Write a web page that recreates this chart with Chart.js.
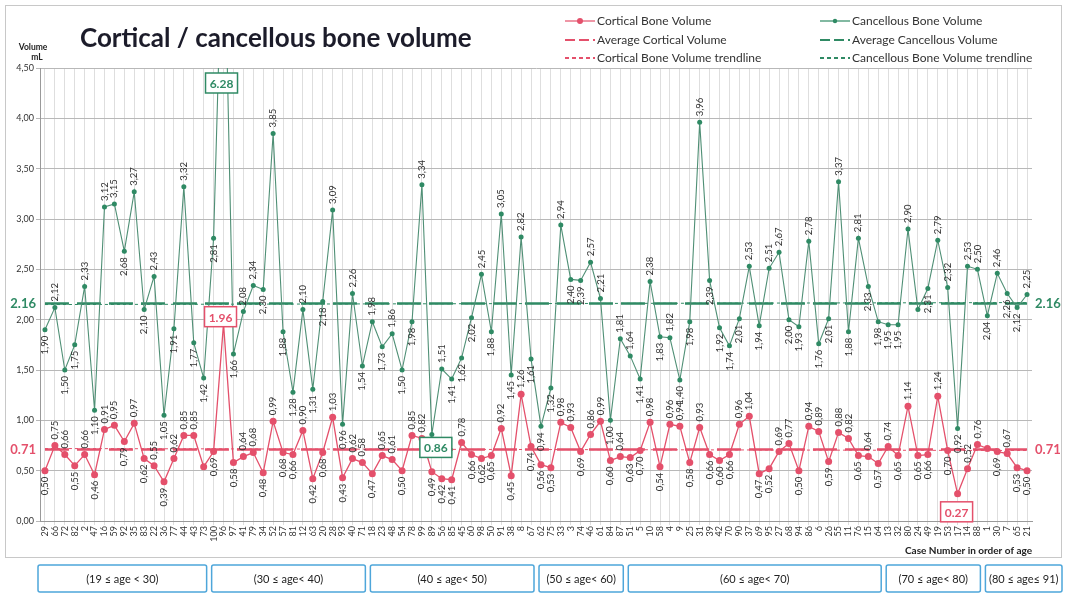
<!DOCTYPE html>
<html>
<head>
<meta charset="utf-8">
<script src="https://cdn.jsdelivr.net/npm/chart.js@4"></script>
<style>
  html, body { margin: 0; padding: 0; background: #fff; }
  #wrap { width: 1066px; height: 595px; position: relative; }
</style>
</head>
<body>
<div id="wrap"><canvas id="myChart" width="1066" height="595"></canvas></div>
<script>
'use strict';

// case numbers, in order of age
let caseNumbers = ['29', '66', '72', '82', '2', '47', '16', '59', '92', '35',
  '83', '22', '36', '77', '44', '43', '73', '100', '96', '97',
  '41', '79', '34', '52', '57', '81', '12', '63', '20', '28',
  '93', '40', '71', '18', '23', '48', '54', '78', '99', '89',
  '56', '85', '45', '60', '98', '50', '91', '38', '8', '67',
  '62', '75', '33', '3', '74', '46', '61', '84', '87', '51',
  '5', '10', '58', '4', '9', '25', '31', '39', '42', '70',
  '90', '37', '69', '95', '27', '68', '94', '86', '6', '26',
  '55', '11', '76', '15', '64', '13', '32', '80', '24', '49',
  '19', '53', '17', '14', '88', '1', '30', '7', '65', '21'];

let corticalVolume = [0.50, 0.75, 0.66, 0.55, 0.66, 0.46, 0.91, 0.95, 0.79, 0.97,
  0.62, 0.55, 0.39, 0.62, 0.85, 0.85, 0.54, 0.69, 1.96, 0.58,
  0.64, 0.68, 0.48, 0.99, 0.68, 0.66, 0.90, 0.42, 0.68, 1.03,
  0.43, 0.62, 0.58, 0.47, 0.65, 0.61, 0.50, 0.85, 0.82, 0.49,
  0.42, 0.41, 0.78, 0.66, 0.62, 0.65, 0.92, 0.45, 1.26, 0.74,
  0.56, 0.53, 0.98, 0.93, 0.69, 0.86, 0.99, 0.60, 0.64, 0.63,
  0.70, 0.98, 0.54, 0.96, 0.94, 0.58, 0.93, 0.66, 0.60, 0.66,
  0.96, 1.04, 0.47, 0.52, 0.69, 0.77, 0.50, 0.94, 0.89, 0.59,
  0.88, 0.82, 0.65, 0.64, 0.57, 0.74, 0.65, 1.14, 0.65, 0.66,
  1.24, 0.70, 0.27, 0.52, 0.76, 0.72, 0.69, 0.67, 0.53, 0.50];

let cancellousVolume = [1.90, 2.12, 1.50, 1.75, 2.33, 1.10, 3.12, 3.15, 2.68, 3.27,
  2.10, 2.43, 1.05, 1.91, 3.32, 1.77, 1.42, 2.81, 6.28, 1.66,
  2.08, 2.34, 2.30, 3.85, 1.88, 1.28, 2.10, 1.31, 2.18, 3.09,
  0.96, 2.26, 1.54, 1.98, 1.73, 1.86, 1.50, 1.98, 3.34, 0.86,
  1.51, 1.41, 1.62, 2.02, 2.45, 1.88, 3.05, 1.45, 2.82, 1.61,
  0.94, 1.32, 2.94, 2.40, 2.39, 2.57, 2.21, 1.00, 1.81, 1.64,
  1.41, 2.38, 1.83, 1.82, 1.40, 1.98, 3.96, 2.39, 1.92, 1.74,
  2.01, 2.53, 1.94, 2.51, 2.67, 2.00, 1.93, 2.78, 1.76, 2.01,
  3.37, 1.88, 2.81, 2.33, 1.98, 1.95, 1.95, 2.90, 2.10, 2.31,
  2.79, 2.32, 0.92, 2.53, 2.50, 2.04, 2.46, 2.26, 2.12, 2.25];

let averageCortical = 0.71;
let averageCancellous = 2.16;
// trendline end points (first case, last case)
let corticalTrend = [0.72, 0.70];
let cancellousTrend = [2.15, 2.17];

let yTicks = [0, 0.5, 1, 1.5, 2, 2.5, 3, 3.5, 4, 4.5];

let ageGroups = ['(19 \u2264 age < 30)', '(30 \u2264 age< 40)', '(40 \u2264 age< 50)', '(50 \u2264 age< 60)',
  '(60 \u2264 age< 70)', '(70 \u2264 age< 80)', '(80 \u2264 age\u2264 91)'];
// first and last case under every age group box
let ageGroupCases = [['29', '73'], ['100', '71'], ['18', '67'], ['62', '87'], ['51', '64'], ['13', '88'], ['1', '21']];

let RED = '#e4506b';
let GREEN = '#2f8a64';
let FONT = 'Lato, "Open Sans", sans-serif';

// boxed values and values left without a label
let boxedLabels = [
  { ds: 1, idx: 18, dx: -2, dy: 0, top: true },
  { ds: 0, idx: 18, dx: -3, dy: -7 },
  { ds: 1, idx: 39, dx: 4, dy: 13 },
  { ds: 0, idx: 92, dx: -1, dy: 18 }
];
let noLabel = { 0: [16, 18, 92, 95], 1: [18, 39, 88] };

function fmt(v) {
  return v.toFixed(2).replace('.', ',');
}

function endPoints(vals) {
  return [{ x: caseNumbers[0], y: vals[0] }, { x: caseNumbers[caseNumbers.length - 1], y: vals[1] }];
}

let extras = {
  id: 'extras',
  afterDatasetsDraw(chart) {
    let ctx = chart.ctx;
    let area = chart.chartArea;
    let xs = chart.scales.x;
    let ys = chart.scales.y;

    // rotated data labels
    ctx.save();
    ctx.font = '9.5px ' + FONT;
    ctx.fillStyle = '#333';
    ctx.textBaseline = 'middle';
    [0, 1].forEach(function (d) {
      let vals = chart.data.datasets[d].data;
      let meta = chart.getDatasetMeta(d);
      for (let i = 0; i < vals.length; i++) {
        if (noLabel[d].includes(i)) continue;
        let p = meta.data[i];
        let prev = i > 0 ? vals[i - 1] : vals[i + 1];
        let next = i < vals.length - 1 ? vals[i + 1] : vals[i - 1];
        let above = vals[i] >= (prev + next) / 2;
        ctx.save();
        ctx.translate(p.x, p.y);
        ctx.rotate(-Math.PI / 2);
        if (above) {
          ctx.textAlign = 'left';
          ctx.fillText(fmt(vals[i]), 6, 0);
        } else {
          ctx.textAlign = 'right';
          ctx.fillText(fmt(vals[i]), -6, 0);
        }
        ctx.restore();
      }
    });
    ctx.restore();

    // boxed values
    ctx.save();
    ctx.font = 'bold 12px ' + FONT;
    ctx.textAlign = 'center';
    ctx.textBaseline = 'middle';
    boxedLabels.forEach(function (b) {
      let col = b.ds === 0 ? RED : GREEN;
      let p = chart.getDatasetMeta(b.ds).data[b.idx];
      let cx = p.x + b.dx;
      let cy = b.top ? area.top + 15 : p.y + b.dy;
      let txt = chart.data.datasets[b.ds].data[b.idx].toFixed(2);
      ctx.fillStyle = '#fff';
      ctx.fillRect(cx - 16, cy - 10, 32, 20);
      ctx.strokeStyle = col;
      ctx.lineWidth = 1.5;
      ctx.strokeRect(cx - 16, cy - 10, 32, 20);
      ctx.fillStyle = col;
      ctx.fillText(txt, cx, cy + 1);
    });
    ctx.restore();

    // average values at both ends
    ctx.save();
    ctx.font = 'bold 13px ' + FONT;
    ctx.textBaseline = 'middle';
    [[averageCortical, RED], [averageCancellous, GREEN]].forEach(function (a) {
      let y = ys.getPixelForValue(a[0]);
      ctx.fillStyle = a[1];
      ctx.textAlign = 'right';
      ctx.fillText(a[0].toFixed(2), area.left - 4, y);
      ctx.textAlign = 'left';
      ctx.fillText(a[0].toFixed(2), area.right + 3, y);
    });
    ctx.restore();

    // title, axis captions, legend
    ctx.save();
    ctx.fillStyle = '#1c1c2a';
    ctx.font = 'bold 26px ' + FONT;
    ctx.textAlign = 'left';
    ctx.textBaseline = 'alphabetic';
    ctx.fillText('Cortical / cancellous bone volume', 80, 47);
    ctx.font = 'bold 8.5px ' + FONT;
    ctx.fillStyle = '#222';
    ctx.textAlign = 'center';
    ctx.fillText('Volume', 33, 50);
    ctx.fillText('mL', 37, 60);
    ctx.textAlign = 'right';
    ctx.font = 'bold 10px ' + FONT;
    ctx.fillText('Case Number in order of age', area.right, 554);

    let legendItems = [
      ['Cortical Bone Volume', RED, [], 'dot', 565, 21],
      ['Average Cortical Volume', RED, [10, 4], 'none', 565, 40],
      ['Cortical Bone Volume trendline', RED, [4, 3], 'none', 565, 58],
      ['Cancellous Bone Volume', GREEN, [], 'dot', 820, 21],
      ['Average Cancellous Volume', GREEN, [10, 4], 'none', 820, 40],
      ['Cancellous Bone Volume trendline', GREEN, [4, 3], 'none', 820, 58]
    ];
    ctx.font = '12px ' + FONT;
    ctx.textAlign = 'left';
    ctx.textBaseline = 'middle';
    legendItems.forEach(function (it) {
      ctx.strokeStyle = it[1];
      ctx.lineWidth = it[3] === 'dot' ? 1.2 : 2;
      ctx.setLineDash(it[2]);
      ctx.beginPath();
      ctx.moveTo(it[4], it[5]);
      ctx.lineTo(it[4] + 30, it[5]);
      ctx.stroke();
      ctx.setLineDash([]);
      if (it[3] === 'dot') {
        ctx.fillStyle = it[1];
        ctx.beginPath();
        ctx.arc(it[4] + 15, it[5], it[1] === RED ? 3 : 2.2, 0, Math.PI * 2);
        ctx.fill();
      }
      ctx.fillStyle = '#333';
      ctx.fillText(it[0], it[4] + 32, it[5]);
    });

    // frame
    ctx.strokeStyle = '#c8c8c8';
    ctx.lineWidth = 1;
    ctx.strokeRect(5.5, 5.5, 1056, 552);

    // age group boxes
    ctx.font = '11px ' + FONT;
    ctx.textAlign = 'center';
    let half = (xs.getPixelForValue(1) - xs.getPixelForValue(0)) / 2;
    ageGroups.forEach(function (g, i) {
      let x0 = xs.getPixelForValue(caseNumbers.indexOf(ageGroupCases[i][0])) - half + 3;
      let x1 = xs.getPixelForValue(caseNumbers.indexOf(ageGroupCases[i][1])) + half - 2;
      if (i === 0) x0 = 38;
      if (i === ageGroups.length - 1) x1 = 1062;
      ctx.fillStyle = '#fff';
      ctx.strokeStyle = '#4ea6da';
      ctx.lineWidth = 1.5;
      ctx.beginPath();
      ctx.roundRect(x0, 565, x1 - x0, 27, 2);
      ctx.fill();
      ctx.stroke();
      ctx.fillStyle = '#222';
      ctx.fillText(g, (x0 + x1) / 2, 579);
    });
    ctx.restore();
  }
};

let ctx = document.getElementById('myChart').getContext('2d');
let chart = new Chart(ctx, {
  type: 'line',
  data: {
    labels: caseNumbers,
    datasets: [{
      label: 'Cortical Bone Volume',
      data: corticalVolume,
      borderColor: RED,
      backgroundColor: RED,
      borderWidth: 1.3,
      pointRadius: 3.5,
      pointBorderWidth: 0,
      order: 2
    }, {
      label: 'Cancellous Bone Volume',
      data: cancellousVolume,
      borderColor: '#4f8f75',
      backgroundColor: GREEN,
      borderWidth: 1.1,
      pointRadius: 2.5,
      pointBorderWidth: 0,
      order: 1
    }, {
      label: 'Average Cortical Volume',
      data: endPoints([averageCortical, averageCortical]),
      borderColor: RED,
      borderWidth: 2.5,
      borderDash: [24, 8],
      pointRadius: 0,
      order: 4
    }, {
      label: 'Average Cancellous Volume',
      data: endPoints([averageCancellous, averageCancellous]),
      borderColor: GREEN,
      borderWidth: 2.5,
      borderDash: [24, 8],
      pointRadius: 0,
      order: 4
    }, {
      label: 'Cortical Bone Volume trendline',
      data: endPoints(corticalTrend),
      borderColor: RED,
      borderWidth: 1,
      borderDash: [3, 3],
      pointRadius: 0,
      order: 3
    }, {
      label: 'Cancellous Bone Volume trendline',
      data: endPoints(cancellousTrend),
      borderColor: GREEN,
      borderWidth: 1,
      borderDash: [3, 3],
      pointRadius: 0,
      order: 3
    }]
  },
  options: {
    responsive: false,
    animation: false,
    layout: { padding: { top: 68, left: 0, right: 34, bottom: 46 } },
    plugins: {
      legend: { display: false },
      tooltip: { enabled: false }
    },
    scales: {
      x: {
        offset: true,
        grid: { color: '#dedede', lineWidth: 1, offset: false, tickLength: 4 },
        border: { color: '#999' },
        ticks: {
          autoSkip: false,
          minRotation: 90,
          maxRotation: 90,
          padding: 1,
          color: '#333',
          font: { size: 9, family: FONT }
        },
        afterFit(scale) { scale.height = 28; }
      },
      y: {
        min: 0,
        max: 4.5,
        afterBuildTicks(scale) { scale.ticks = yTicks.map(function (v) { return { value: v }; }); },
        grid: { color: '#b8b8b8', lineWidth: 1, tickLength: 4 },
        border: { color: '#999' },
        ticks: {
          color: '#333',
          padding: 2,
          font: { size: 9, family: FONT },
          callback: function (v) { return fmt(v); }
        },
        afterFit(scale) { scale.width = 40; }
      }
    }
  },
  plugins: [extras]
});
</script>
</body>
</html>
